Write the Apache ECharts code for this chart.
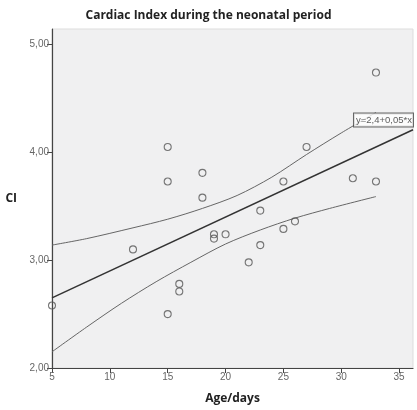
<!DOCTYPE html>
<html>
<head>
<meta charset="utf-8">
<script src="https://cdn.jsdelivr.net/npm/echarts@6.0.0/dist/echarts.min.js"></script>
<style>
  html, body { margin: 0; padding: 0; background: #fff; }
  #chart { width: 417px; height: 410px; }
</style>
</head>
<body>
<div id="chart"></div>
<script>
// observed points (age in days, cardiac index)
const ageDays = [5, 12, 15, 15, 15, 16, 16, 18, 18, 19, 19, 20, 22, 23, 23, 25, 25, 26, 27, 31, 33, 33];
const ciValues = [2.58, 3.10, 4.05, 3.73, 2.50, 2.78, 2.71, 3.81, 3.58, 3.24, 3.20, 3.24, 2.98, 3.46, 3.14, 3.73, 3.29, 3.36, 4.05, 3.76, 4.74, 3.73];

// fit line y=2,4+0,05*x, end points
const fitLine = [[5, 2.65], [36.2, 4.21]];
// 95% confidence band of the mean
const upperBand = [[5, 3.14], [8, 3.20], [12, 3.30], [15, 3.38], [18, 3.48], [21, 3.60], [24, 3.77], [27, 3.98], [30, 4.18], [33, 4.37]];
const lowerBand = [[5, 2.15], [8, 2.38], [11, 2.60], [14, 2.80], [17, 2.98], [20, 3.15], [23, 3.28], [26, 3.39], [29, 3.48], [33, 3.59]];

const fitLabel = 'y=2,4+0,05*x';
const fitLabelAt = [31.1, 4.25];

const chart = echarts.init(document.getElementById('chart'));

const points = ageDays.map((x, i) => [x, ciValues[i]]);
const tickFont = { color: '#666', fontSize: 10, fontFamily: 'Liberation Sans' };

chart.setOption({
  animation: false,
  title: {
    text: 'Cardiac Index during the neonatal period',
    left: 'center',
    top: 5,
    textStyle: { fontFamily: 'Open Sans', fontWeight: 'bold', fontSize: 12, color: '#222' }
  },
  grid: {
    left: 52, right: 4, top: 29, bottom: 38,
    show: true,
    backgroundColor: '#f0f0f1',
    borderColor: '#ddd',
    borderWidth: 1
  },
  xAxis: {
    type: 'value',
    min: 5, max: 36.2, interval: 5,
    name: 'Age/days',
    nameLocation: 'middle',
    nameGap: 25,
    nameTextStyle: { fontFamily: 'Open Sans', fontWeight: 'bold', fontSize: 12, color: '#222' },
    splitLine: { show: false },
    axisLine: { lineStyle: { color: '#444', width: 1.2 } },
    axisTick: { length: 5, lineStyle: { color: '#444' } },
    axisLabel: Object.assign({ margin: 4, showMaxLabel: false }, tickFont)
  },
  yAxis: {
    type: 'value',
    min: 2, max: 5.144, interval: 1,
    name: 'CI',
    nameLocation: 'middle',
    nameRotate: 0,
    nameGap: 35,
    nameTextStyle: { fontFamily: 'Open Sans', fontWeight: 'bold', fontSize: 12, color: '#222' },
    splitLine: { show: false },
    axisLine: { show: true, lineStyle: { color: '#444', width: 1.2 } },
    axisTick: { show: true, length: 5, lineStyle: { color: '#444' } },
    axisLabel: Object.assign({
      margin: 3,
      showMaxLabel: false,
      formatter: v => v.toFixed(2).replace('.', ',')
    }, tickFont)
  },
  series: [
    {
      type: 'line',
      data: upperBand,
      smooth: 0.3,
      showSymbol: false,
      lineStyle: { color: '#666', width: 1 },
      z: 2
    },
    {
      type: 'line',
      data: lowerBand,
      smooth: 0.3,
      showSymbol: false,
      lineStyle: { color: '#666', width: 1 },
      z: 2
    },
    {
      type: 'line',
      data: fitLine,
      showSymbol: false,
      lineStyle: { color: '#333', width: 1.5 },
      z: 3
    },
    {
      type: 'scatter',
      data: points,
      symbol: 'circle',
      symbolSize: 7,
      itemStyle: { color: 'transparent', borderColor: '#555', borderWidth: 1.1 },
      z: 4
    },
    {
      type: 'scatter',
      data: [fitLabelAt],
      symbolSize: 0,
      silent: true,
      label: {
        show: true,
        position: [0, -12],
        formatter: fitLabel,
        fontFamily: 'Liberation Sans',
        fontSize: 9.5,
        color: '#333',
        backgroundColor: '#fff',
        borderColor: '#444',
        borderWidth: 1,
        padding: [2, 1, 1, 2]
      },
      z: 6
    }
  ]
});
</script>
</body>
</html>
